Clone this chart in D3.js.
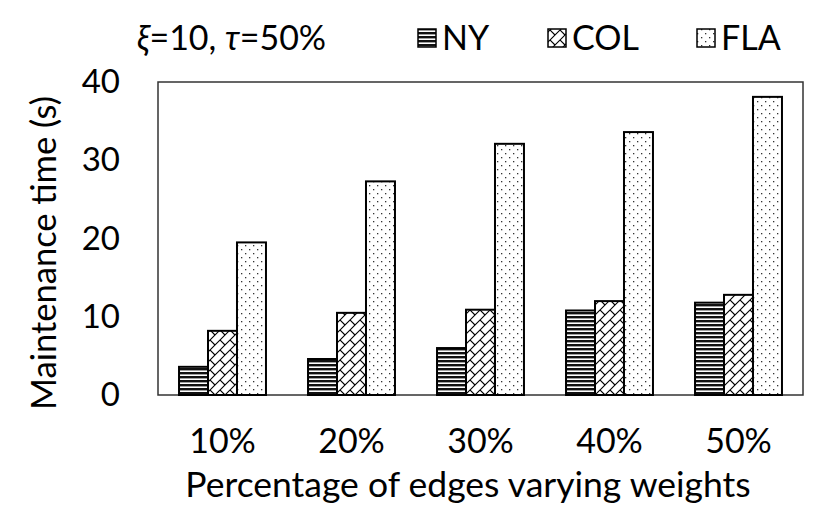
<!DOCTYPE html>
<html><head><meta charset="utf-8">
<script src="https://cdn.jsdelivr.net/npm/d3@7"></script>
<style>body{margin:0;background:#fff}svg{display:block}text{font-family:Lato,"Open Sans",sans-serif;fill:#000}</style>
</head><body>
<script>
const categories = ["10%", "20%", "30%", "40%", "50%"];
const seriesNames = ["NY", "COL", "FLA"];
const NY  = [3.6, 4.6, 6.0, 10.8, 11.8];
const COL = [8.2, 10.5, 10.9, 12.0, 12.8];
const FLA = [19.5, 27.3, 32.1, 33.6, 38.1];
const yTicks = [0, 10, 20, 30, 40];
const values = {NY, COL, FLA};

const W = 831, H = 508;
const svg = d3.select("body").append("svg").attr("width", W).attr("height", H);
const defs = svg.append("defs");

// NY: horizontal stripes
const pNY = defs.append("pattern").attr("id","pNY").attr("patternUnits","userSpaceOnUse").attr("width",8).attr("height",4);
pNY.append("rect").attr("width",8).attr("height",4).attr("fill","#fff");
pNY.append("rect").attr("y",0).attr("width",8).attr("height",2.4).attr("fill","#111");
// COL: brick-like diagonal
const pCOL = defs.append("pattern").attr("id","pCOL").attr("patternUnits","userSpaceOnUse").attr("width",10).attr("height",10);
pCOL.append("rect").attr("width",10).attr("height",10).attr("fill","#fff");
pCOL.append("path").attr("d","M-1,11 L11,-1 M-6,6 L6,-6 M4,16 L16,4").attr("stroke","#000").attr("stroke-width",1.1);
pCOL.append("path").attr("d","M0,0 L5,5").attr("stroke","#000").attr("stroke-width",1.1);
// FLA: dots
const pFLA = defs.append("pattern").attr("id","pFLA").attr("patternUnits","userSpaceOnUse").attr("width",8).attr("height",8);
pFLA.append("rect").attr("width",8).attr("height",8).attr("fill","#fff");
pFLA.append("rect").attr("x",1).attr("y",1).attr("width",1.3).attr("height",1.3).attr("fill","#333");
pFLA.append("rect").attr("x",5).attr("y",5).attr("width",1.3).attr("height",1.3).attr("fill","#333");
const fills = {NY:"url(#pNY)", COL:"url(#pCOL)", FLA:"url(#pFLA)"};

const x0 = d3.scaleBand().domain(categories).range([158, 803]).paddingInner(0.326).paddingOuter(0.163);
const x1 = d3.scaleBand().domain(seriesNames).range([0, x0.bandwidth()]);
const y = d3.scaleLinear().domain([0, 40]).range([395, 82]);

// frame
svg.append("rect").attr("x",158).attr("y",82).attr("width",645).attr("height",313)
  .attr("fill","none").attr("stroke","#333").attr("stroke-width",1.5);

// bars
const g = svg.append("g");
categories.forEach((c, i) => {
  seriesNames.forEach(s => {
    const v = values[s][i];
    g.append("rect").attr("x", x0(c) + x1(s)).attr("y", y(v))
      .attr("width", x1.bandwidth()).attr("height", y(0) - y(v))
      .attr("fill", fills[s]).attr("stroke","#000").attr("stroke-width",2);
  });
});

// y axis
const ya = svg.append("g").attr("transform","translate(158,0)")
  .call(d3.axisLeft(y).tickValues(yTicks).tickSize(0).tickPadding(38));
ya.select(".domain").remove();
ya.selectAll("text").attr("font-size",33).style("font-family","Lato");

// x axis
const xa = svg.append("g").attr("transform","translate(0,395)")
  .call(d3.axisBottom(x0).tickSize(0).tickPadding(34));
xa.select(".domain").remove();
xa.selectAll("text").attr("font-size",34).style("font-family","Lato");

svg.append("text").attr("x",468).attr("y",497).attr("text-anchor","middle")
  .attr("font-size",35.5).text("Percentage of edges varying weights");
svg.append("text").attr("transform","translate(56,253) rotate(-90)").attr("text-anchor","middle")
  .attr("font-size",34.5).text("Maintenance time (s)");

// annotation
const ann = svg.append("text").attr("x",137).attr("y",50).attr("font-size",34);
ann.append("tspan").attr("font-style","italic").text("ξ");
ann.append("tspan").text("=10, ");
ann.append("tspan").attr("font-style","italic").text("τ");
ann.append("tspan").text("=50%");

// legend
const legX = [418, 548, 697];
seriesNames.forEach((s, i) => {
  svg.append("rect").attr("x", legX[i]).attr("y", 29).attr("width",18).attr("height",18)
    .attr("fill", fills[s]).attr("stroke","#000").attr("stroke-width",1.5);
  svg.append("text").attr("x", legX[i] + 24).attr("y", 50).attr("font-size",34).text(s);
});
</script>
</body></html>
